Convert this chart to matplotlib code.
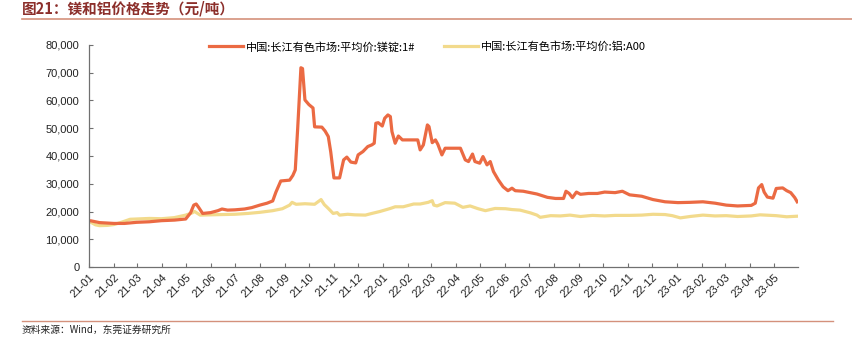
import pandas as pd
import matplotlib
matplotlib.use("Agg")
import matplotlib.pyplot as plt
import matplotlib.dates as mdates
from matplotlib.lines import Line2D

plt.rcParams['font.family'] = ['Liberation Sans', 'Noto Sans CJK SC']

# 长江有色市场 镁锭 1# 平均价 (元/吨)
mg_dates = [
    "2021-01-04", "2021-01-14", "2021-02-01", "2021-02-14", "2021-03-01", "2021-03-17",
    "2021-04-01", "2021-04-17", "2021-05-01", "2021-05-07", "2021-05-11", "2021-05-14",
    "2021-05-17", "2021-05-22", "2021-06-01", "2021-06-10", "2021-06-15", "2021-06-22",
    "2021-07-01", "2021-07-13", "2021-07-22", "2021-08-01", "2021-08-10", "2021-08-17",
    "2021-08-21", "2021-08-27", "2021-09-07", "2021-09-11", "2021-09-14", "2021-09-17",
    "2021-09-21", "2021-09-23", "2021-09-26", "2021-10-01", "2021-10-06", "2021-10-08",
    "2021-10-17", "2021-10-21", "2021-10-25", "2021-10-28", "2021-11-01", "2021-11-08",
    "2021-11-13", "2021-11-17", "2021-11-22", "2021-11-28", "2021-12-01", "2021-12-07",
    "2021-12-13", "2021-12-18", "2021-12-21", "2021-12-23", "2021-12-26", "2021-12-31",
    "2022-01-03", "2022-01-07", "2022-01-10", "2022-01-12", "2022-01-16", "2022-01-20",
    "2022-01-25", "2022-02-13", "2022-02-16", "2022-02-20", "2022-02-25", "2022-02-27",
    "2022-03-03", "2022-03-07", "2022-03-10", "2022-03-15", "2022-03-19", "2022-04-07",
    "2022-04-13", "2022-04-17", "2022-04-22", "2022-04-25", "2022-05-01", "2022-05-05",
    "2022-05-10", "2022-05-14", "2022-05-18", "2022-05-24", "2022-05-30", "2022-06-05",
    "2022-06-10", "2022-06-14", "2022-06-24", "2022-07-11", "2022-07-24", "2022-08-03",
    "2022-08-13", "2022-08-16", "2022-08-20", "2022-08-24", "2022-08-29", "2022-09-03",
    "2022-09-13", "2022-09-24", "2022-10-03", "2022-10-16", "2022-10-25", "2022-11-03",
    "2022-11-18", "2022-12-02", "2022-12-17", "2023-01-02", "2023-01-17", "2023-02-02",
    "2023-02-17", "2023-03-03", "2023-03-17", "2023-04-03", "2023-04-08", "2023-04-12",
    "2023-04-16", "2023-04-19", "2023-04-23", "2023-04-30", "2023-05-04", "2023-05-12",
    "2023-05-17", "2023-05-22", "2023-05-27", "2023-05-30",
]
mg_prices = [
    16600, 16000, 15700, 15700, 16100, 16300,
    16700, 16900, 17300, 19500, 22300, 22700,
    21500, 19300, 19600, 20300, 20900, 20500,
    20600, 20900, 21400, 22300, 23000, 23800,
    27000, 31000, 31300, 33000, 35000, 50000,
    71800, 71500, 60200, 58500, 57300, 50500,
    50400, 49000, 47000, 41500, 32100, 32100,
    38600, 39600, 37800, 37500, 40400, 41600,
    43400, 44000, 44600, 51800, 52000, 50800,
    53600, 54800, 54200, 48800, 44600, 47200,
    45800, 45800, 42200, 44000, 51200, 50600,
    44800, 45800, 44200, 40400, 42800, 42800,
    38600, 38000, 40700, 38000, 37400, 39800,
    36800, 38000, 34400, 31400, 28900, 27500,
    28400, 27500, 27300, 26300, 25100, 24700,
    24700, 27300, 26500, 25000, 27000, 26200,
    26500, 26500, 27000, 26800, 27300, 26000,
    25500, 24300, 23500, 23200, 23300, 23500,
    23000, 22300, 22000, 22200, 23000, 28500,
    29700, 27000, 25200, 24800, 28300, 28500,
    27500, 26800, 25000, 23500,
]

# 长江有色市场 铝 A00 平均价 (元/吨)
al_dates = [
    "2021-01-04", "2021-01-09", "2021-01-14", "2021-01-24", "2021-02-01", "2021-02-11",
    "2021-02-21", "2021-03-01", "2021-03-17", "2021-04-01", "2021-04-17", "2021-05-01",
    "2021-05-09", "2021-05-12", "2021-05-19", "2021-06-01", "2021-06-15", "2021-07-01",
    "2021-07-17", "2021-08-01", "2021-08-17", "2021-08-29", "2021-09-07", "2021-09-10",
    "2021-09-15", "2021-09-26", "2021-10-08", "2021-10-16", "2021-10-20", "2021-10-25",
    "2021-10-31", "2021-11-05", "2021-11-08", "2021-11-18", "2021-11-27", "2021-12-10",
    "2021-12-18", "2021-12-28", "2022-01-10", "2022-01-16", "2022-01-26", "2022-02-08",
    "2022-02-16", "2022-02-26", "2022-03-03", "2022-03-05", "2022-03-09", "2022-03-19",
    "2022-03-31", "2022-04-10", "2022-04-19", "2022-04-29", "2022-05-08", "2022-05-20",
    "2022-06-02", "2022-06-10", "2022-06-20", "2022-07-03", "2022-07-11", "2022-07-15",
    "2022-07-28", "2022-08-09", "2022-08-21", "2022-09-03", "2022-09-18", "2022-10-03",
    "2022-10-16", "2022-11-03", "2022-11-18", "2022-12-02", "2022-12-17", "2022-12-26",
    "2023-01-05", "2023-01-17", "2023-02-02", "2023-02-17", "2023-03-03", "2023-03-17",
    "2023-04-03", "2023-04-14", "2023-05-04", "2023-05-17", "2023-05-30",
]
al_prices = [
    16000, 15200, 14900, 15000, 15300, 16200,
    17200, 17300, 17500, 17400, 17800, 18700,
    19500, 20000, 18700, 18800, 18900, 19000,
    19300, 19700, 20300, 21000, 22300, 23300,
    22600, 22800, 22600, 24300, 22500, 21100,
    19300, 19600, 18700, 19000, 18800, 18700,
    19300, 20000, 21100, 21700, 21700, 22700,
    22700, 23300, 23900, 22300, 22000, 23200,
    23000, 21500, 22000, 21000, 20300, 21100,
    21000, 20700, 20500, 19500, 18700, 17900,
    18500, 18400, 18700, 18200, 18600, 18400,
    18600, 18600, 18700, 19000, 18900, 18500,
    17700, 18200, 18700, 18400, 18500, 18200,
    18400, 18800, 18500, 18100, 18300,
]

mg = pd.Series(mg_prices, index=pd.to_datetime(mg_dates))
al = pd.Series(al_prices, index=pd.to_datetime(al_dates))

MG_COLOR = "#EB6A43"
AL_COLOR = "#F2DA8C"
TITLE_COLOR = "#8C2F2B"
RULE_COLOR = "#D4917C"

fig = plt.figure(figsize=(8.52, 3.37), dpi=100)
ax = fig.add_axes([0.1045, 0.2077, 0.8321, 0.6588])

ax.plot(al.index, al.values, color=AL_COLOR, lw=2.3, solid_joinstyle="round")
ax.plot(mg.index, mg.values, color=MG_COLOR, lw=2.3, solid_joinstyle="round")

ax.set_ylim(0, 80000)
ax.set_yticks(range(0, 80001, 10000))
ax.yaxis.set_major_formatter(matplotlib.ticker.FuncFormatter(lambda v, p: f"{int(v):,}"))
ax.set_xlim(pd.Timestamp("2021-01-01"), pd.Timestamp("2023-05-31"))
ax.xaxis.set_major_locator(mdates.MonthLocator())
ax.xaxis.set_major_formatter(mdates.DateFormatter("%y-%m"))

for s in ("top", "right"):
    ax.spines[s].set_visible(False)
for s in ("left", "bottom"):
    ax.spines[s].set_color("#707070")
    ax.spines[s].set_linewidth(0.9)
ax.tick_params(direction="in", length=3, width=0.8, color="#707070", labelsize=8,
               labelcolor="#222222")
ax.tick_params(axis="y", pad=7)
for lab in ax.get_xticklabels():
    lab.set_rotation(45)
    lab.set_ha("right")
    lab.set_rotation_mode("anchor")

handles = [Line2D([], [], color=MG_COLOR, lw=2.3), Line2D([], [], color=AL_COLOR, lw=2.3)]
labels = ["中国:长江有色市场:平均价:镁锭:1#", "中国:长江有色市场:平均价:铝:A00"]
fig.legend(handles, labels, loc="center", bbox_to_anchor=(0.502, 1 - 47 / 337), ncol=2,
           frameon=False, handlelength=3.0, columnspacing=2.6, handletextpad=0.3,
           prop={"family": ["Noto Sans CJK SC", "Liberation Sans"], "size": 8})

# header and footer
fig.text(22 / 852, 1 - 8 / 337, "图21：镁和铝价格走势（元/吨）", color=TITLE_COLOR,
         fontsize=10.5, fontweight="bold", va="center", ha="left",
         family=["Noto Sans CJK SC", "Liberation Sans"])
fig.add_artist(Line2D([22 / 852, 1.0], [1 - 19 / 337] * 2, color=RULE_COLOR, lw=1.2))
fig.add_artist(Line2D([22 / 852, 833 / 852], [1 - 321 / 337] * 2, color=RULE_COLOR, lw=1.0))
fig.text(22 / 852, 1 - 330 / 337, "资料来源：Wind，东莞证券研究所", color="#222222",
         fontsize=7, style="italic", va="center", ha="left",
         family=["Noto Sans CJK SC", "Liberation Sans"])

fig.savefig("out.png", dpi=100)
